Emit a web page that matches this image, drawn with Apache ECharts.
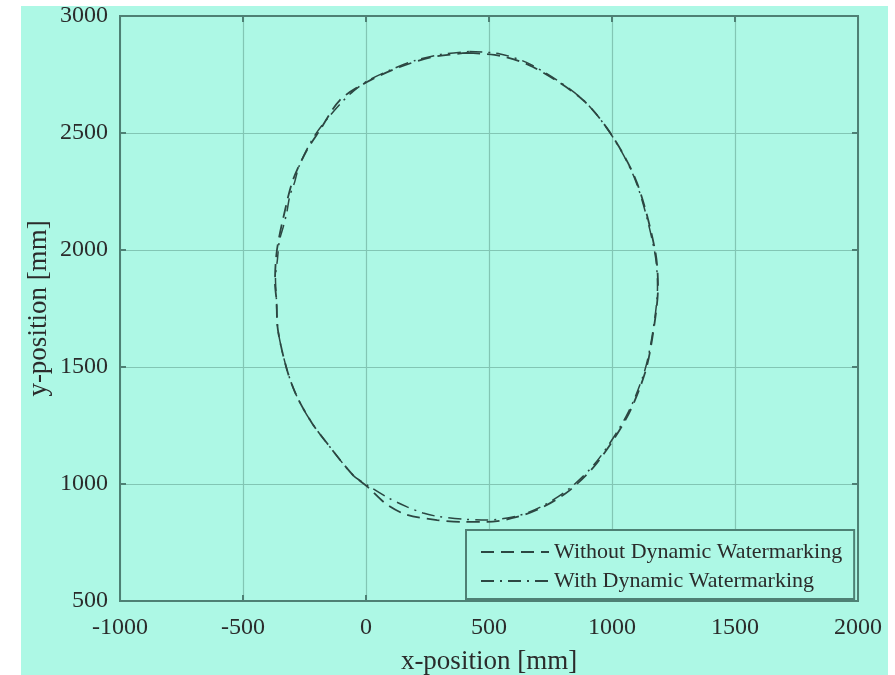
<!DOCTYPE html>
<html>
<head>
<meta charset="utf-8">
<script src="https://cdn.jsdelivr.net/npm/echarts@6/dist/echarts.min.js"></script>
<style>
html,body{margin:0;padding:0;background:#ffffff;width:895px;height:675px;overflow:hidden;}
#chart{position:absolute;left:21px;top:6px;width:867px;height:669px;}
</style>
</head>
<body>
<div id="chart"></div>
<script>
// Ticks
var xTicks = [-1000, -500, 0, 500, 1000, 1500, 2000];
var yTicks = [500, 1000, 1500, 2000, 2500, 3000];
var seriesNames = ['Without Dynamic Watermarking', 'With Dynamic Watermarking'];

// Trajectory without dynamic watermarking (dashed)
var withoutX = [411, 545, 679, 882, 1004, 1102, 1175, 1187, 1167, 1134, 1061, 939, 829, 720, 614, 492, 394, 289, 167, 85, 4, -53, -159, -220, -280, -321, -358, -364, -370, -362, -329, -297, -240, -187, -106, 4, 138, 272, 411];
var withoutY = [2842, 2830, 2782, 2641, 2483, 2286, 2000, 1842, 1645, 1474, 1286, 1090, 974, 902, 859, 838, 838, 846, 868, 912, 990, 1038, 1175, 1261, 1372, 1487, 1658, 1786, 1859, 2000, 2171, 2299, 2427, 2513, 2641, 2718, 2782, 2825, 2842];

// Trajectory with dynamic watermarking (dash-dot)
var withX = [420, 545, 675, 878, 1000, 1098, 1172, 1185, 1165, 1130, 1058, 936, 826, 718, 614, 492, 394, 289, 232, 167, 85, 4, -53, -159, -220, -280, -321, -358, -364, -368, -360, -352, -336, -322, -310, -290, -275, -250, -225, -195, -150, -100, -50, 10, 100, 200, 300, 420];
var withY = [2848, 2838, 2790, 2646, 2488, 2290, 2000, 1842, 1645, 1474, 1290, 1094, 980, 906, 863, 846, 850, 862, 876, 902, 944, 996, 1038, 1175, 1261, 1372, 1487, 1658, 1786, 1880, 1960, 2040, 2100, 2160, 2230, 2290, 2350, 2410, 2460, 2510, 2570, 2630, 2680, 2725, 2770, 2810, 2835, 2848];

function zip(xs, ys) {
  var out = [];
  for (var i = 0; i < xs.length; i++) out.push([xs[i], ys[i]]);
  return out;
}
function plain(v) { return String(v); }

var bg = '#adf8e5';
var frame = '#4e8074';
var gridCol = '#82c6b4';
var lineCol = '#2c4742';
var txt = '#2b2b2b';
var font = 'Liberation Serif';

var chart = echarts.init(document.getElementById('chart'), null, {renderer: 'canvas'});
var tickStyle = {show: true, inside: true, length: 6, lineStyle: {color: frame, width: 2}};
var lineAxis = {show: true, onZero: false, lineStyle: {color: frame, width: 2}};
var option = {
  backgroundColor: bg,
  animation: false,
  textStyle: {fontFamily: font, color: txt},
  grid: {left: 99, top: 10, right: 30, bottom: 74, containLabel: false, outerBoundsMode: 'none',
         show: true, borderColor: frame, borderWidth: 2, backgroundColor: 'transparent'},
  legend: {
    data: seriesNames,
    orient: 'vertical',
    left: 445,
    top: 524,
    itemWidth: 68,
    itemHeight: 14,
    itemGap: 7,
    padding: [11, 12, 7, 14],
    backgroundColor: bg,
    borderColor: frame,
    borderWidth: 2,
    itemStyle: {opacity: 0},
    textStyle: {fontFamily: font, fontSize: 22, color: txt, lineHeight: 21}
  },
  xAxis: [{
    type: 'value', min: xTicks[0], max: xTicks[xTicks.length - 1], interval: 500,
    position: 'bottom',
    name: 'x-position [mm]', nameLocation: 'middle', nameGap: 47, nameMoveOverlap: false,
    nameTextStyle: {fontFamily: font, fontSize: 27, color: txt},
    axisLine: lineAxis,
    axisTick: tickStyle,
    axisLabel: {margin: 15, fontFamily: font, fontSize: 24, color: txt, formatter: plain},
    splitLine: {show: true, lineStyle: {color: gridCol, width: 1.2}}
  }, {
    type: 'value', min: xTicks[0], max: xTicks[xTicks.length - 1], interval: 500,
    position: 'top',
    axisLine: lineAxis,
    axisTick: tickStyle,
    axisLabel: {show: false},
    splitLine: {show: false}
  }],
  yAxis: [{
    type: 'value', min: yTicks[0], max: yTicks[yTicks.length - 1], interval: 500,
    position: 'left',
    name: 'y-position [mm]', nameLocation: 'middle', nameGap: 68, nameMoveOverlap: false,
    nameTextStyle: {fontFamily: font, fontSize: 27, color: txt},
    axisLine: lineAxis,
    axisTick: tickStyle,
    axisLabel: {margin: 12, fontFamily: font, fontSize: 24, color: txt, formatter: plain},
    splitLine: {show: true, lineStyle: {color: gridCol, width: 1.2}}
  }, {
    type: 'value', min: yTicks[0], max: yTicks[yTicks.length - 1], interval: 500,
    position: 'right',
    axisLine: lineAxis,
    axisTick: tickStyle,
    axisLabel: {show: false},
    splitLine: {show: false}
  }],
  series: [{
    name: seriesNames[0],
    type: 'line',
    xAxisIndex: 0, yAxisIndex: 0,
    data: zip(withoutX, withoutY),
    symbol: 'none',
    smooth: 0.3,
    lineStyle: {color: lineCol, width: 1.8, type: [13, 7]},
    itemStyle: {color: lineCol, opacity: 0},
    z: 3
  }, {
    name: seriesNames[1],
    type: 'line',
    xAxisIndex: 0, yAxisIndex: 0,
    data: zip(withX, withY),
    symbol: 'none',
    smooth: 0.3,
    lineStyle: {color: lineCol, width: 1.5, type: [13, 6, 2, 6]},
    itemStyle: {color: lineCol, opacity: 0},
    z: 4
  }]
};
chart.setOption(option);
</script>
</body>
</html>
